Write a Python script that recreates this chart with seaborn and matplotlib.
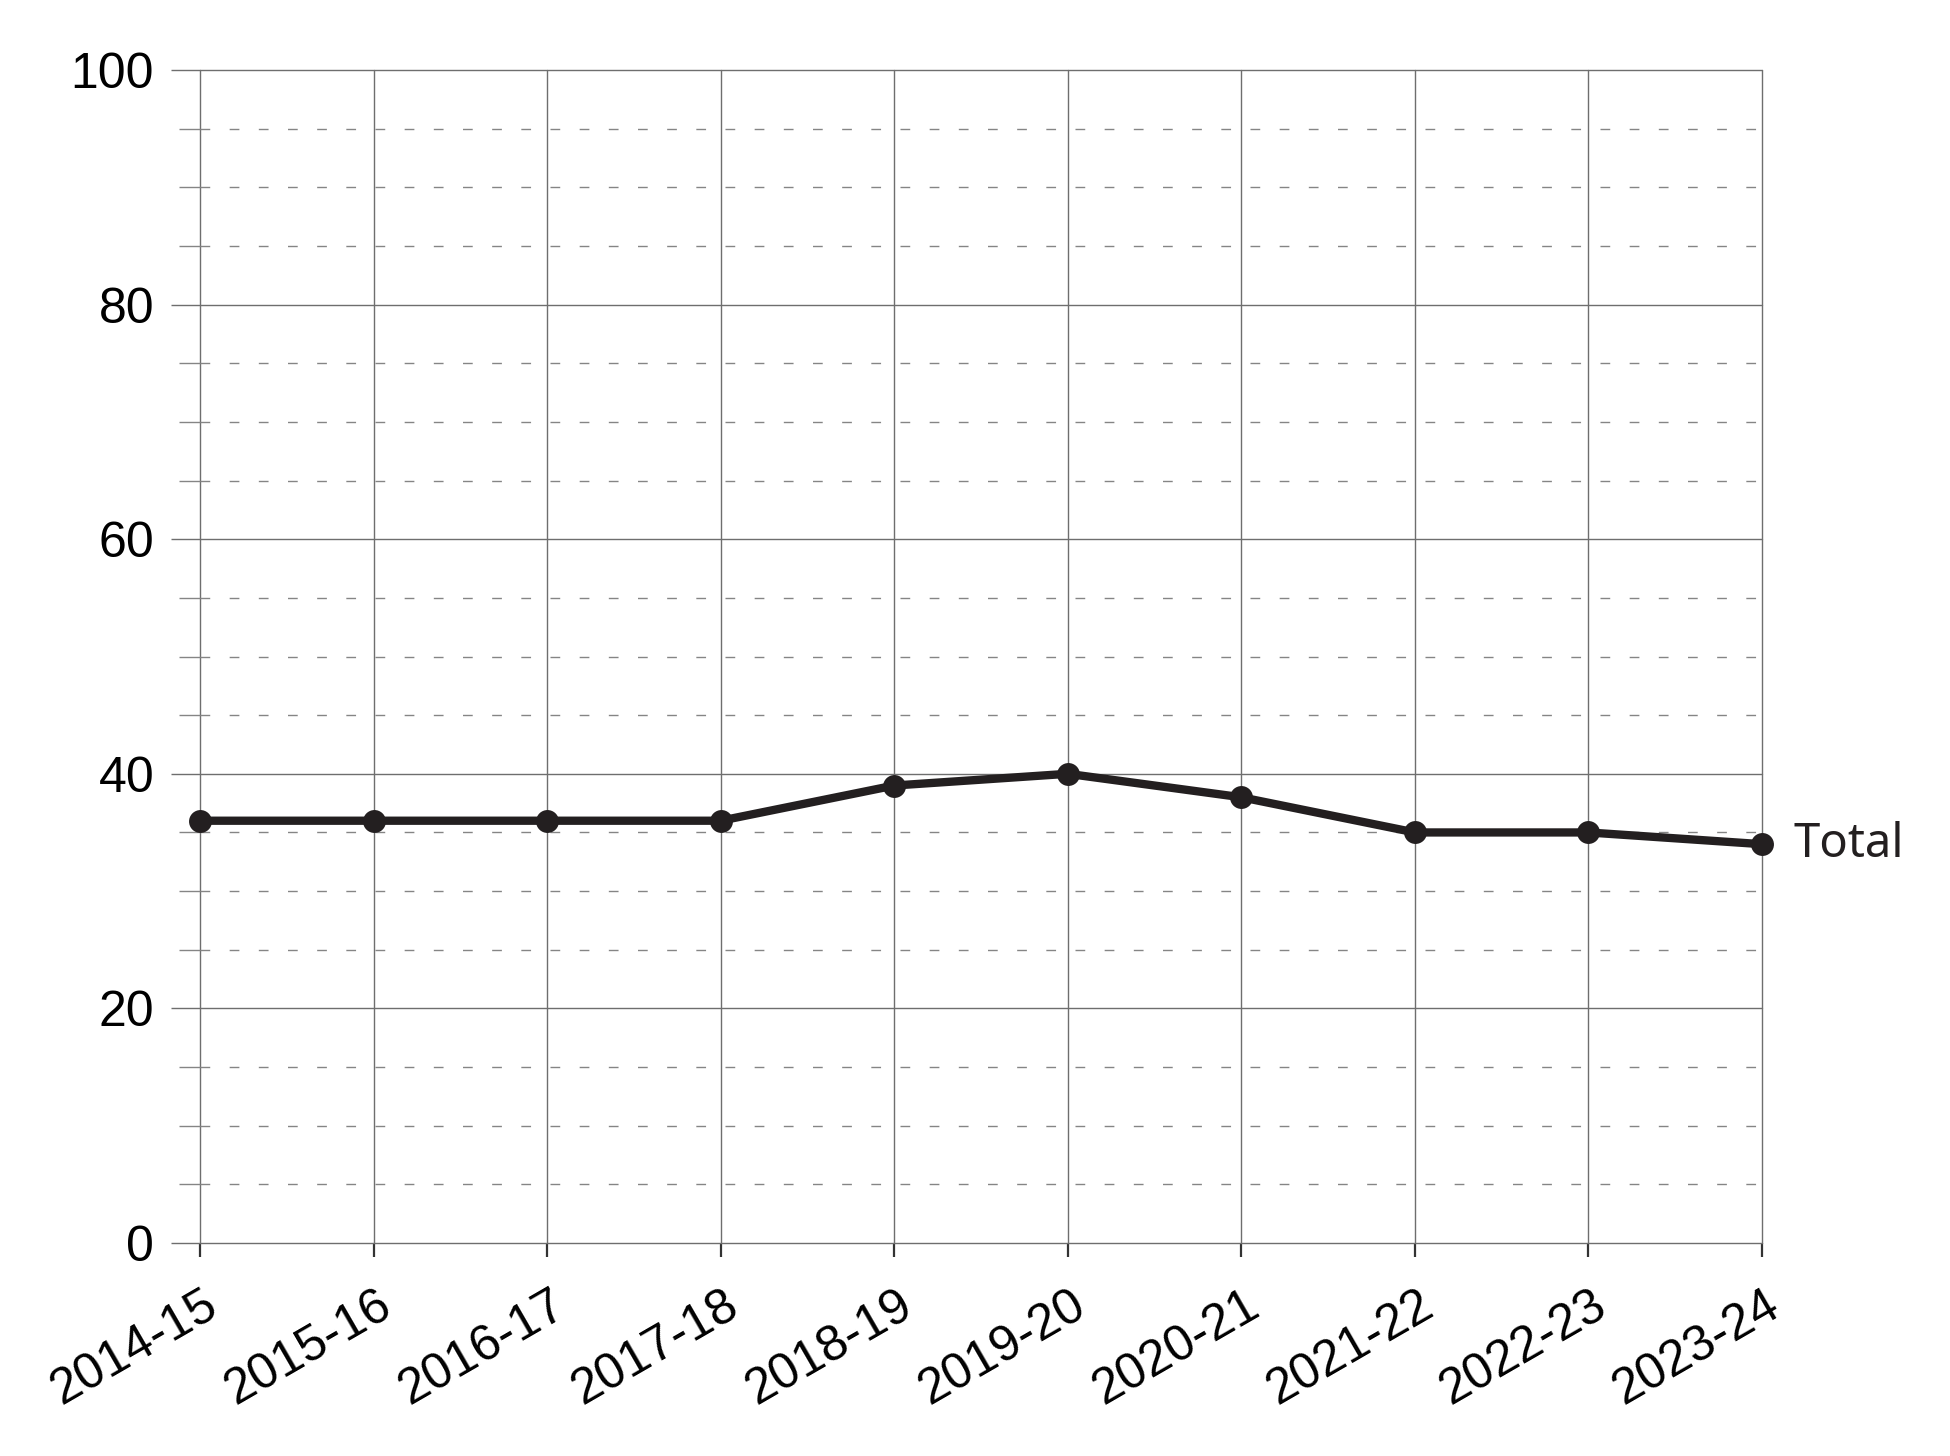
import matplotlib
matplotlib.use("Agg")
import matplotlib.pyplot as plt
import matplotlib.transforms as mtransforms
from matplotlib.ticker import MultipleLocator
import pandas as pd
import seaborn as sns

# Dados
anos = ["2014-15", "2015-16", "2016-17", "2017-18", "2018-19",
        "2019-20", "2020-21", "2021-22", "2022-23", "2023-24"]
total = [36, 36, 36, 36, 39, 40, 38, 35, 35, 34]
rotulo_serie = "Total"
y_ticks = [0, 20, 40, 60, 80, 100]

cor_linha = "#231f20"
cor_grade = "#6e6e6e"
cor_grade_sec = "#858585"


def main():
    sns.set_style("white")
    plt.rcParams['font.family'] = ['Liberation Sans', 'DejaVu Sans']

    df = pd.DataFrame({"ano": anos, "total": total})

    fig = plt.figure(figsize=(19.5, 14.56), dpi=100)
    ax = fig.add_axes([200 / 1950, 1 - 1243 / 1456, 1562 / 1950, 1173 / 1456])

    sns.lineplot(data=df, x="ano", y="total", ax=ax, sort=False,
                 color=cor_linha, linewidth=6, marker="o",
                 markersize=16.5, markeredgewidth=0, zorder=5, clip_on=False)

    ax.set_xlim(0, len(anos) - 1)
    ax.set_ylim(y_ticks[0], y_ticks[-1])
    ax.set_yticks(y_ticks)
    ax.yaxis.set_minor_locator(MultipleLocator(5))

    # Grade: principal contínua, secundária tracejada
    ax.set_axisbelow(True)
    ax.grid(True, which="major", axis="both", color=cor_grade, linewidth=1.0)
    ax.grid(True, which="minor", axis="y", color=cor_grade_sec, linewidth=1.0,
            linestyle=(0, (7, 14)))
    # linhas nas bordas (0, 100, primeira/última coluna) não devem ser cortadas
    for linha in ax.get_xgridlines() + ax.get_ygridlines():
        linha.set_clip_on(False)

    for s in ax.spines.values():
        s.set_visible(False)

    # o estilo "white" desliga os ticks; religar
    ax.tick_params(axis="y", which="both", left=True)
    ax.tick_params(axis="x", which="major", bottom=True)
    ax.tick_params(axis="y", which="major", length=21, width=1.0,
                   color=cor_grade, labelsize=36, pad=12, labelcolor="black")
    ax.tick_params(axis="y", which="minor", length=15, width=1.0,
                   color=cor_grade_sec)
    ax.tick_params(axis="x", which="major", length=10, width=1.6,
                   color="#333333", labelsize=36, pad=18, labelcolor="black")

    desloc = mtransforms.ScaledTranslation(3 / 100, 0, fig.dpi_scale_trans)
    for rot in ax.get_xticklabels():
        rot.set_rotation(30)
        rot.set_ha("right")
        rot.set_va("top")
        rot.set_rotation_mode("anchor")
        rot.set_transform(rot.get_transform() + desloc)

    ax.set_xlabel("")
    ax.set_ylabel("")

    ax.annotate(rotulo_serie, xy=(len(anos) - 1, total[-1]),
                xytext=(23, 0), textcoords="offset points",
                ha="left", va="center", fontsize=34, color=cor_linha,
                family=["Noto Sans", "DejaVu Sans"], annotation_clip=False)

    fig.savefig("out.png", dpi=100)


if __name__ == "__main__":
    main()
